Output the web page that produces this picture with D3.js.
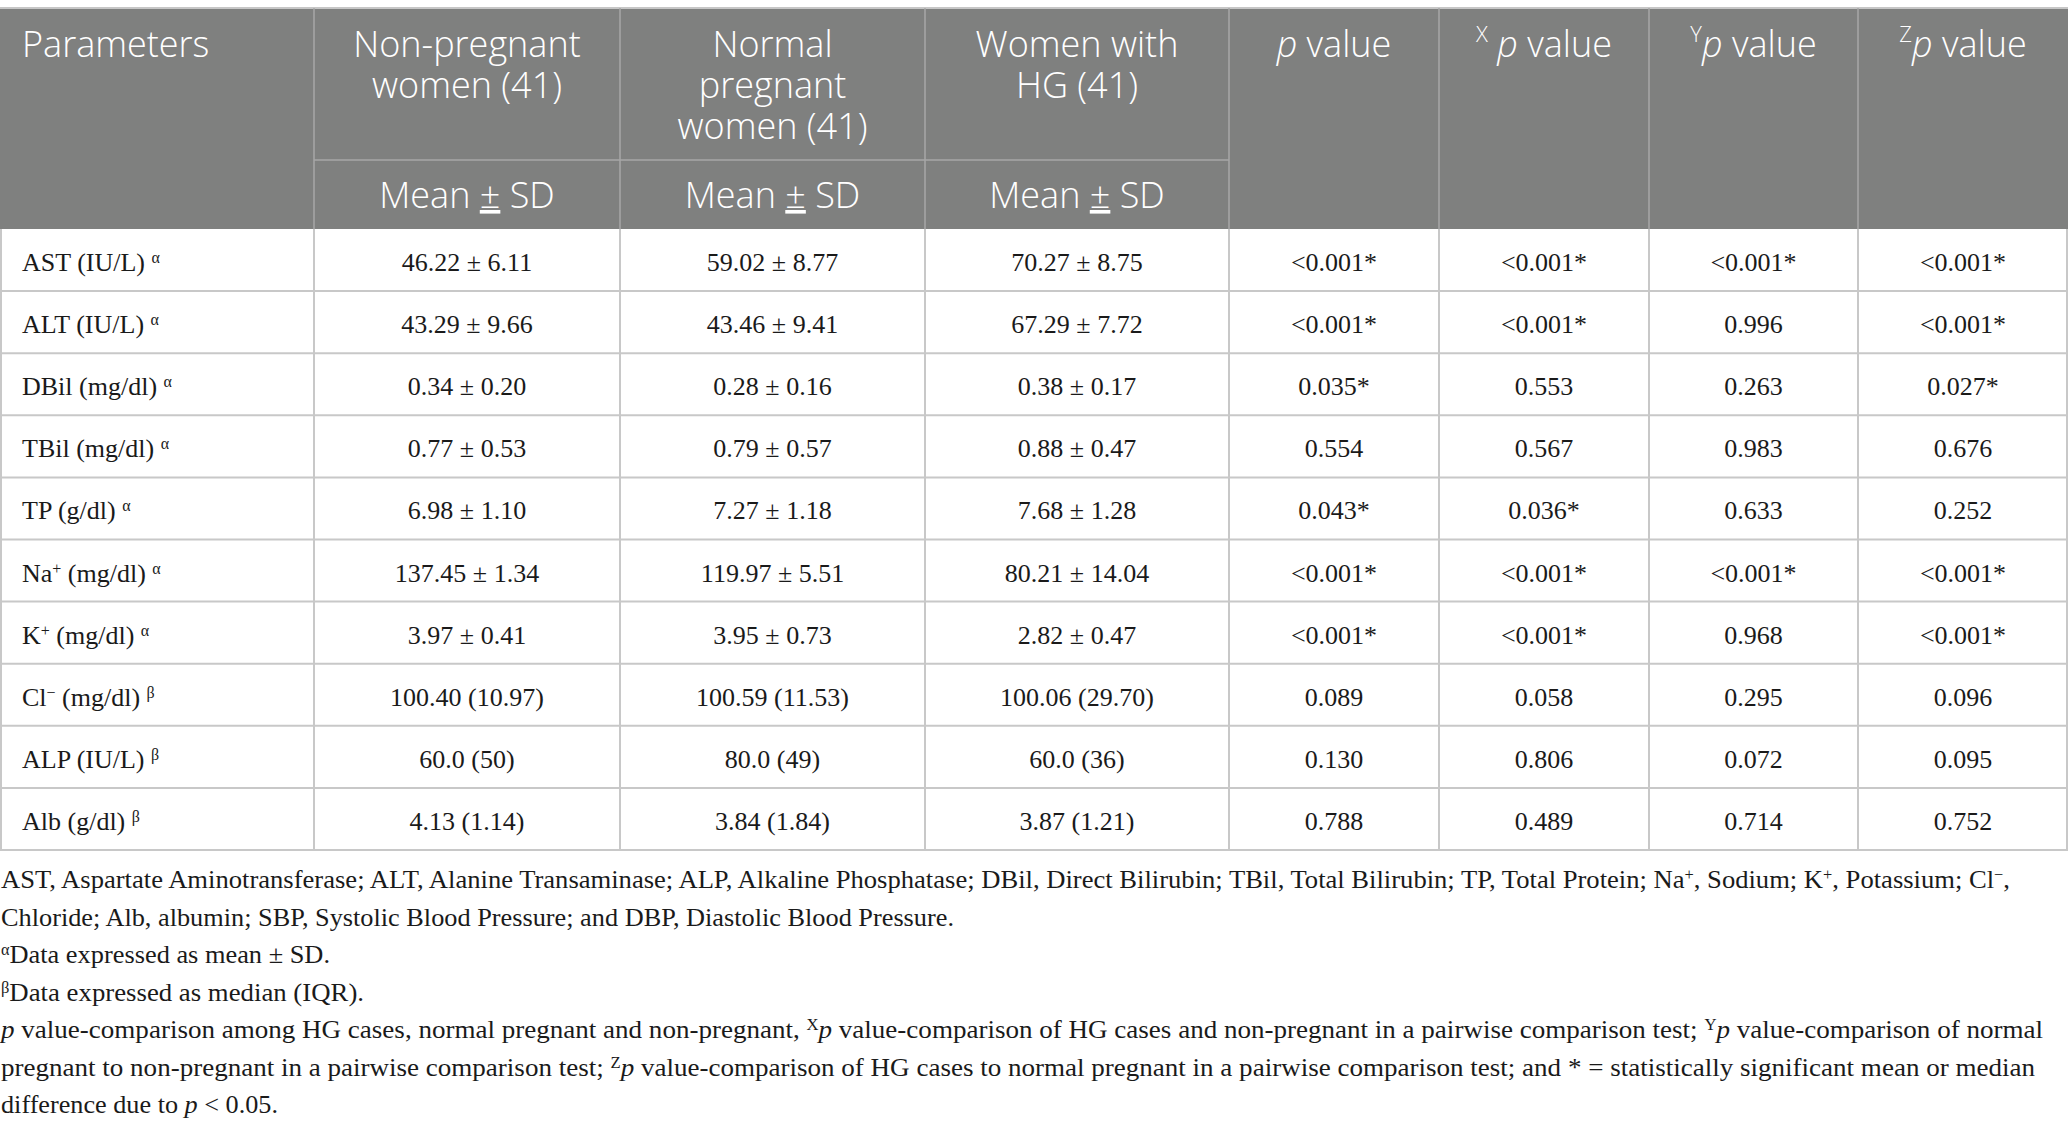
<!DOCTYPE html>
<html>
<head>
<meta charset="utf-8">
<script src="https://cdn.jsdelivr.net/npm/d3@7"></script>
<style>
  html, body { margin: 0; padding: 0; background: #fff; }
  svg { display: block; }
</style>
</head>
<body>
<div id="container"></div>
<script>
// table values
var paramLabels = [
    [{t: "AST (IU/L) "}, {t: "α", s: 1}],
    [{t: "ALT (IU/L) "}, {t: "α", s: 1}],
    [{t: "DBil (mg/dl) "}, {t: "α", s: 1}],
    [{t: "TBil (mg/dl) "}, {t: "α", s: 1}],
    [{t: "TP (g/dl) "}, {t: "α", s: 1}],
    [{t: "Na"}, {t: "+", s: 1}, {t: " (mg/dl) "}, {t: "α", s: 1}],
    [{t: "K"}, {t: "+", s: 1}, {t: " (mg/dl) "}, {t: "α", s: 1}],
    [{t: "Cl"}, {t: "−", s: 1}, {t: " (mg/dl) "}, {t: "β", s: 1}],
    [{t: "ALP (IU/L) "}, {t: "β", s: 1}],
    [{t: "Alb (g/dl) "}, {t: "β", s: 1}]
];
var nonPregnant = ["46.22 ± 6.11", "43.29 ± 9.66", "0.34 ± 0.20", "0.77 ± 0.53", "6.98 ± 1.10",
    "137.45 ± 1.34", "3.97 ± 0.41", "100.40 (10.97)", "60.0 (50)", "4.13 (1.14)"];
var normalPregnant = ["59.02 ± 8.77", "43.46 ± 9.41", "0.28 ± 0.16", "0.79 ± 0.57", "7.27 ± 1.18",
    "119.97 ± 5.51", "3.95 ± 0.73", "100.59 (11.53)", "80.0 (49)", "3.84 (1.84)"];
var hgWomen = ["70.27 ± 8.75", "67.29 ± 7.72", "0.38 ± 0.17", "0.88 ± 0.47", "7.68 ± 1.28",
    "80.21 ± 14.04", "2.82 ± 0.47", "100.06 (29.70)", "60.0 (36)", "3.87 (1.21)"];
var pValue = ["<0.001*", "<0.001*", "0.035*", "0.554", "0.043*", "<0.001*", "<0.001*", "0.089", "0.130", "0.788"];
var pValueX = ["<0.001*", "<0.001*", "0.553", "0.567", "0.036*", "<0.001*", "<0.001*", "0.058", "0.806", "0.489"];
var pValueY = ["<0.001*", "0.996", "0.263", "0.983", "0.633", "<0.001*", "0.968", "0.295", "0.072", "0.714"];
var pValueZ = ["<0.001*", "<0.001*", "0.027*", "0.676", "0.252", "<0.001*", "<0.001*", "0.096", "0.095", "0.752"];

var groupTitles = [["Non-pregnant", "women (41)"], ["Normal", "pregnant", "women (41)"], ["Women with", "HG (41)"]];
var pTitles = [
    [{t: "p", i: 1}, {t: " value"}],
    [{t: "X", s: 1}, {t: " "}, {t: "p", i: 1}, {t: " value"}],
    [{t: "Y", s: 1}, {t: "p", i: 1}, {t: " value"}],
    [{t: "Z", s: 1}, {t: "p", i: 1}, {t: " value"}]
];
var footLines = [
    [{t: "AST, Aspartate Aminotransferase; ALT, Alanine Transaminase; ALP, Alkaline Phosphatase; DBil, Direct Bilirubin; TBil, Total Bilirubin; TP, Total Protein; Na"}, {t: "+", s: 1}, {t: ", Sodium; K"}, {t: "+", s: 1}, {t: ", Potassium; Cl"}, {t: "−", s: 1}, {t: ","}],
    [{t: "Chloride; Alb, albumin; SBP, Systolic Blood Pressure; and DBP, Diastolic Blood Pressure."}],
    [{t: "α", s: 1}, {t: "Data expressed as mean ± SD."}],
    [{t: "β", s: 1}, {t: "Data expressed as median (IQR)."}],
    [{t: "p", i: 1}, {t: " value-comparison among HG cases, normal pregnant and non-pregnant, "}, {t: "X", s: 1}, {t: "p", i: 1}, {t: " value-comparison of HG cases and non-pregnant in a pairwise comparison test; "}, {t: "Y", s: 1}, {t: "p", i: 1}, {t: " value-comparison of normal"}],
    [{t: "pregnant to non-pregnant in a pairwise comparison test; "}, {t: "Z", s: 1}, {t: "p", i: 1}, {t: " value-comparison of HG cases to normal pregnant in a pairwise comparison test; and * = statistically significant mean or median"}],
    [{t: "difference due to "}, {t: "p", i: 1}, {t: " < 0.05."}]
];

// layout
var W = 2068, H = 1130;
var colWidths = [314, 306, 305, 304, 210, 210, 209, 210];
var footWidths = [2009, 953, 329, 363, 2042, 2034, 277];
var headTop = 8, subLine = 160, headBottom = 229, tableBottom = 850;
var headFont = "'Open Sans', 'Noto Sans', sans-serif";
var bodyFont = "'Liberation Serif', 'Times New Roman', serif";

var svg = d3.select("#container")
    .append("svg")
        .attr("width", W)
        .attr("height", H);

var edges = [0].concat(Array.from(d3.cumsum(colWidths)));
var x = d3.scaleLinear().domain([0, d3.sum(colWidths)]).range([0, W]);
var y = d3.scaleBand()
    .domain(d3.range(paramLabels.length))
    .range([headBottom, tableBottom])
    .padding(0);

function addRuns(sel, runs, supSize) {
    runs.forEach(function(r) {
        var ts = sel.append("tspan").text(r.t);
        if (r.i) ts.attr("font-style", "italic");
        if (r.s) ts.attr("font-size", supSize).attr("baseline-shift", "super");
    });
}

// header background
svg.append("rect")
    .attr("x", 0)
    .attr("y", headTop)
    .attr("width", W)
    .attr("height", headBottom - headTop)
    .attr("fill", "#7f807f");

svg.append("line")
    .attr("x1", 0).attr("x2", W)
    .attr("y1", headTop).attr("y2", headTop)
    .attr("stroke", "#c6c6c6")
    .attr("stroke-width", 2);

// header separators
svg.selectAll("line.hsep")
    .data(edges.slice(1, -1))
    .enter()
    .append("line")
        .attr("class", "hsep")
        .attr("x1", function(d) { return x(d); })
        .attr("x2", function(d) { return x(d); })
        .attr("y1", headTop)
        .attr("y2", headBottom)
        .attr("stroke", "#a7a7a7")
        .attr("stroke-width", 1.5);

svg.append("line")
    .attr("x1", x(edges[1])).attr("x2", x(edges[4]))
    .attr("y1", subLine).attr("y2", subLine)
    .attr("stroke", "#a7a7a7")
    .attr("stroke-width", 1.5);

// header texts
var head = svg.append("g")
    .attr("font-family", headFont)
    .attr("font-weight", 300)
    .attr("font-size", "36px")
    .attr("fill", "#ffffff");

head.append("text")
    .attr("x", 22)
    .attr("y", 57)
    .text("Parameters");

groupTitles.forEach(function(lines, gi) {
    var cx = x((edges[gi + 1] + edges[gi + 2]) / 2);
    head.selectAll(null)
        .data(lines)
        .enter()
        .append("text")
            .attr("x", cx)
            .attr("y", function(d, i) { return 57 + i * 41; })
            .attr("text-anchor", "middle")
            .text(function(d) { return d; });
    var sub = head.append("text")
        .attr("x", cx)
        .attr("y", 208)
        .attr("text-anchor", "middle");
    sub.append("tspan").text("Mean ");
    sub.append("tspan").text("±").attr("text-decoration", "underline");
    sub.append("tspan").text(" SD");
});

pTitles.forEach(function(runs, pi) {
    var t = head.append("text")
        .attr("x", x((edges[pi + 4] + edges[pi + 5]) / 2))
        .attr("y", 57)
        .attr("text-anchor", "middle");
    addRuns(t, runs, "22px");
});

// body grid
var body = svg.append("g");

body.selectAll("line.rsep")
    .data(d3.range(paramLabels.length))
    .enter()
    .append("line")
        .attr("x1", 0).attr("x2", W)
        .attr("y1", function(d) { return y(d) + y.bandwidth(); })
        .attr("y2", function(d) { return y(d) + y.bandwidth(); })
        .attr("stroke", "#c8c8c8")
        .attr("stroke-width", 2);

body.selectAll("line.csep")
    .data(edges)
    .enter()
    .append("line")
        .attr("x1", function(d) { return Math.min(Math.max(x(d), 1), W - 1); })
        .attr("x2", function(d) { return Math.min(Math.max(x(d), 1), W - 1); })
        .attr("y1", headBottom)
        .attr("y2", tableBottom)
        .attr("stroke", "#c8c8c8")
        .attr("stroke-width", 2);

// body texts
var cells = body.append("g")
    .attr("font-family", bodyFont)
    .attr("font-size", "26px")
    .attr("fill", "#1a1a1a");

paramLabels.forEach(function(runs, ri) {
    var t = cells.append("text")
        .attr("x", 22)
        .attr("y", y(ri) + y.bandwidth() / 2 + 11);
    addRuns(t, runs, "16px");
});

[nonPregnant, normalPregnant, hgWomen, pValue, pValueX, pValueY, pValueZ].forEach(function(col, ci) {
    cells.selectAll(null)
        .data(col)
        .enter()
        .append("text")
            .attr("x", x((edges[ci + 1] + edges[ci + 2]) / 2))
            .attr("y", function(d, i) { return y(i) + y.bandwidth() / 2 + 11; })
            .attr("text-anchor", "middle")
            .text(function(d) { return d; });
});

// footnotes
var foot = svg.append("g")
    .attr("font-family", bodyFont)
    .attr("font-size", "26px")
    .attr("fill", "#1a1a1a");

footLines.forEach(function(runs, li) {
    var t = foot.append("text")
        .attr("x", 1)
        .attr("y", 888 + li * 37.5)
        .attr("textLength", footWidths[li])
        .attr("lengthAdjust", "spacingAndGlyphs");
    addRuns(t, runs, "16px");
});
</script>
</body>
</html>
